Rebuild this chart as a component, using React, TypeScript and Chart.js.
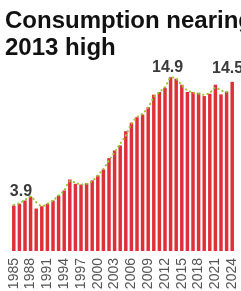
import React, { useEffect, useRef } from "react";
import { Chart, registerables } from "chart.js";

Chart.register(...registerables);

const years = [
  "1985", "1986", "1987", "1988", "1989", "1990", "1991", "1992", "1993", "1994",
  "1995", "1996", "1997", "1998", "1999", "2000", "2001", "2002", "2003", "2004",
  "2005", "2006", "2007", "2008", "2009", "2010", "2011", "2012", "2013", "2014",
  "2015", "2016", "2017", "2018", "2019", "2020", "2021", "2022", "2023", "2024",
];

const consumption = [
  3.9, 4.05, 4.33, 4.67, 3.64, 3.84, 4.05, 4.33, 4.76, 5.19,
  6.13, 5.76, 5.7, 5.81, 6.05, 6.48, 6.99, 7.96, 8.62, 9.05,
  10.27, 10.99, 11.47, 11.71, 12.33, 13.4, 13.62, 14.0, 14.9, 14.77,
  14.25, 13.62, 13.62, 13.57, 13.28, 13.48, 14.25, 13.42, 13.68, 14.5,
];

const trend = [
  3.95, 4.1, 4.39, 4.67, 4.19, 3.84, 4.05, 4.33, 4.76, 5.19,
  5.99, 5.85, 5.7, 5.76, 5.99, 6.48, 7.05, 7.76, 8.47, 9.19,
  9.9, 10.91, 11.47, 11.77, 12.33, 13.19, 13.62, 14.05, 14.85, 14.77,
  14.19, 13.77, 13.57, 13.48, 13.4, 13.57, 14.0, 13.77, 13.62, null,
];

const tickYears = [
  "1985", "1988", "1991", "1994", "1997", "2000", "2003",
  "2006", "2009", "2012", "2015", "2018", "2021", "2024",
];

const labelYears = ["1985", "2013", "2024"];
const labelTexts = ["3.9", "14.9", "14.5"];

const titleLines = ["Consumption nearing", "2013 high"];

const FONT = "'Liberation Sans', Arial, Helvetica, sans-serif";

const overlayPlugin = {
  id: "overlay",
  afterDatasetsDraw(chart: any) {
    const ctx = chart.ctx;
    ctx.save();
    ctx.fillStyle = "#111111";
    ctx.font = `bold 24px ${FONT}`;
    ctx.textAlign = "left";
    ctx.textBaseline = "alphabetic";
    ctx.fillText(titleLines[0], 5, 28);
    ctx.fillText(titleLines[1], 5, 55);

    const meta = chart.getDatasetMeta(1);
    const styles = [
      { align: "left", dx: -4, dy: 10 },
      { align: "center", dx: -3, dy: 5 },
      { align: "right", dx: 11, dy: 9 },
    ];
    ctx.fillStyle = "#3a3a3a";
    ctx.font = `bold 16px ${FONT}`;
    labelYears.forEach((yr, i) => {
      const idx = years.indexOf(yr);
      const el = meta.data[idx];
      if (!el) return;
      const s = styles[i];
      ctx.textAlign = s.align;
      ctx.fillText(labelTexts[i], el.x + s.dx, el.y - s.dy);
    });
    ctx.restore();
  },
};

export default function App() {
  const ref = useRef<HTMLCanvasElement | null>(null);

  useEffect(() => {
    if (!ref.current) return;
    const chart = new Chart(ref.current, {
      type: "bar",
      data: {
        labels: years,
        datasets: [
          {
            type: "line",
            label: "Trend",
            data: trend,
            borderColor: "#9cc43a",
            borderWidth: 2,
            borderDash: [0.5, 4],
            borderCapStyle: "round",
            pointRadius: 0,
            tension: 0.3,
            fill: false,
            order: 0,
          } as any,
          {
            type: "bar",
            label: "Consumption",
            data: consumption,
            backgroundColor: "#de2f3a",
            borderWidth: 0,
            categoryPercentage: 1,
            barPercentage: 0.62,
            order: 1,
          },
        ],
      },
      options: {
        responsive: false,
        animation: false,
        layout: { padding: { top: 76, left: 11, right: 6, bottom: 0 } },
        plugins: {
          legend: { display: false },
          tooltip: { enabled: false },
          title: { display: false },
        },
        scales: {
          x: {
            offset: true,
            grid: { display: false, drawTicks: false },
            border: { display: false },
            afterFit: (scale: any) => {
              scale.paddingLeft = 0;
              scale.paddingRight = 0;
              scale.height = 40;
            },
            ticks: {
              autoSkip: false,
              minRotation: 90,
              maxRotation: 90,
              padding: 7,
              color: "#555555",
              font: { size: 14, family: FONT },
              callback: (_v: any, i: number) =>
                tickYears.includes(years[i]) ? years[i] : "",
            },
          },
          y: {
            display: false,
            min: 0,
            max: 15,
          },
        },
      },
      plugins: [overlayPlugin],
    });
    return () => chart.destroy();
  }, []);

  return (
    <div style={{ position: "absolute", left: 0, top: 0, width: 241, height: 291 }}>
      <canvas ref={ref} width={241} height={291} style={{ width: 241, height: 291 }} />
    </div>
  );
}
